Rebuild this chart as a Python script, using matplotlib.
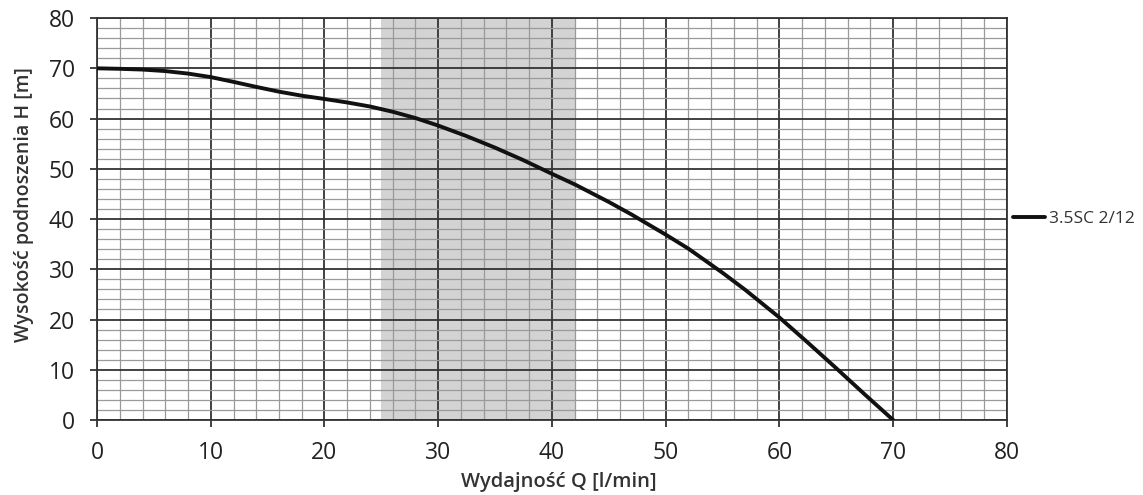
import matplotlib
matplotlib.use("Agg")
import matplotlib.pyplot as plt
from matplotlib.ticker import MultipleLocator

flow_q = [0, 2, 4, 6, 8, 10, 12, 14, 16, 18, 20, 22, 24, 26, 28, 30, 32.5, 35, 37.5, 40, 42, 45, 47, 50, 52, 55, 57, 60, 62.5, 65, 67.5, 70]
head_h = [70, 69.9, 69.75, 69.45, 68.95, 68.25, 67.3, 66.3, 65.35, 64.55, 63.9, 63.2, 62.4, 61.35, 60.1, 58.6, 56.5, 54.2, 51.7, 49.0, 46.9, 43.4, 40.9, 36.9, 34.1, 29.3, 25.9, 20.4, 15.4, 10.3, 5.1, 0]
series_label = "3.5SC 2/12"
shade_range = (25, 42)
x_ticks = [0, 10, 20, 30, 40, 50, 60, 70, 80]
y_ticks = [0, 10, 20, 30, 40, 50, 60, 70, 80]

plt.rcParams['font.family'] = ['Open Sans', 'DejaVu Sans']

fig = plt.figure(figsize=(11.43, 4.95), dpi=100)
ax = fig.add_axes([0.0849, 0.1515, 0.796, 0.812])

ax.axvspan(shade_range[0], shade_range[1], color='#d3d3d3', zorder=0, lw=0)

ax.set_xlim(0, 80)
ax.set_ylim(0, 80)
ax.set_xticks(x_ticks)
ax.set_yticks(y_ticks)
ax.xaxis.set_minor_locator(MultipleLocator(2))
ax.yaxis.set_minor_locator(MultipleLocator(2))
ax.grid(which='major', color='#333333', lw=1.3, zorder=1)
ax.grid(which='minor', color='#9a9a9a', lw=0.9, zorder=1)
ax.set_axisbelow(True)

for s in ax.spines.values():
    s.set_color('#333333')
    s.set_linewidth(1.3)

ax.tick_params(which='major', length=5, width=1.3, color='#333333', labelsize=16.5, labelcolor='#222222')
ax.tick_params(axis='x', which='major', pad=10)
ax.tick_params(axis='y', which='major', pad=11)
ax.tick_params(which='minor', length=0)
for lbl in ax.get_xticklabels() + ax.get_yticklabels():
    lbl.set_fontweight('medium')

ax.plot(flow_q, head_h, color='#111111', lw=2.8, solid_capstyle='round', solid_joinstyle='round', label=series_label, zorder=3)

ax.set_xlabel("Wydajność Q [l/min]", fontsize=14.5, fontweight='semibold', color='#333333', va='center')
ax.xaxis.set_label_coords(0.508, -0.154)
ax.set_ylabel("Wysokość podnoszenia H [m]", fontsize=14, fontweight='semibold', color='#333333', va='center')
ax.yaxis.set_label_coords(-0.080, 0.535)

leg = ax.legend(loc='center left', bbox_to_anchor=(1.0066, 0.5), frameon=False, fontsize=12.5,
                handlelength=1.85, handletextpad=0.25, borderaxespad=0, borderpad=0)
for t in leg.get_texts():
    t.set_color('#333333')
    t.set_fontweight('medium')

fig.savefig("out.png", dpi=100, facecolor='white')
